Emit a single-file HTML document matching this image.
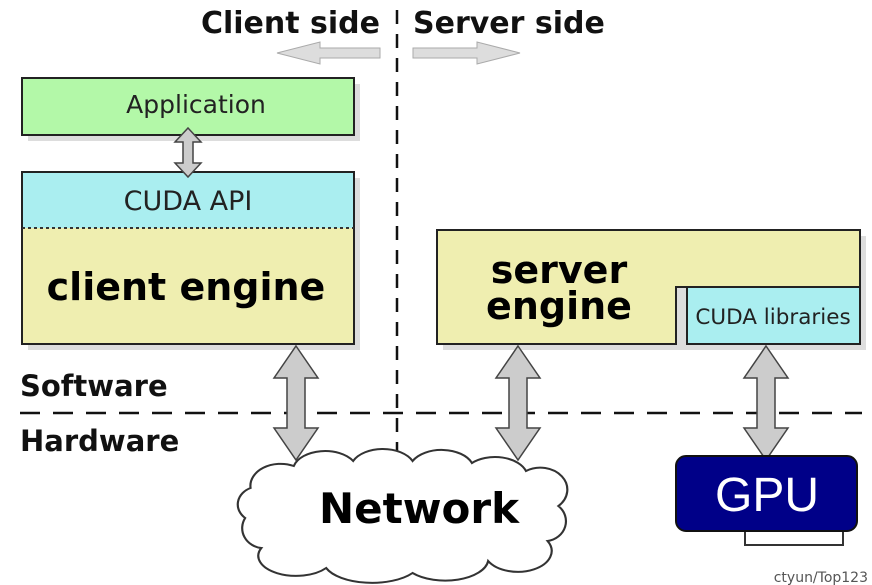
<!DOCTYPE html>
<html><head><meta charset="utf-8"><style>
html,body{margin:0;padding:0;background:#fff;}
svg{display:block;font-family:"DejaVu Sans","Liberation Sans",sans-serif;}
</style></head><body>
<svg width="872" height="585" viewBox="0 0 872 585" xmlns="http://www.w3.org/2000/svg">
<!-- titles -->
<text x="380" y="33" font-size="30" font-weight="bold" text-anchor="end" fill="#111">Client side</text>
<text x="413" y="33" font-size="30" font-weight="bold" fill="#111">Server side</text>
<polygon points="277,53 320,42 320,48 380,48 380,58 320,58 320,64" fill="#ddd" stroke="#aaa"/>
<polygon points="520,53 477,42 477,48 413,48 413,58 477,58 477,64" fill="#ddd" stroke="#aaa"/>
<!-- vertical divider -->
<line x1="397" y1="10" x2="397" y2="462" stroke="#111" stroke-width="2.5" stroke-dasharray="14,10"/>
<!-- shadows -->
<rect x="28" y="84" width="332" height="57" fill="#ddd"/>
<rect x="28" y="178" width="332" height="172" fill="#ddd"/>
<rect x="443" y="236" width="423" height="114" fill="#ddd"/>
<!-- application -->
<rect x="22" y="78" width="332" height="57" fill="#b3f8a8" stroke="#222" stroke-width="2"/>
<text x="196" y="113" font-size="25" text-anchor="middle" fill="#222">Application</text>
<!-- cuda api + client engine -->
<rect x="22" y="172" width="332" height="56" fill="#aaeef0"/>
<rect x="22" y="228" width="332" height="116" fill="#efeeb0"/>
<rect x="22" y="172" width="332" height="172" fill="none" stroke="#222" stroke-width="2"/>
<line x1="22" y1="228" x2="354" y2="228" stroke="#333" stroke-width="2" stroke-dasharray="3,3"/>
<text x="188" y="210" font-size="27" text-anchor="middle" fill="#222">CUDA API</text>
<text x="186" y="300" font-size="38" font-weight="bold" text-anchor="middle" fill="#000">client engine</text>
<polygon points="188,128 201,142 193,142 193,163 201,163 188,177 175,163 183,163 183,142 175,142" fill="#ccc" stroke="#444" stroke-width="1.5"/>
<!-- server engine -->
<polygon points="437,230 860,230 860,287 676,287 676,344 437,344" fill="#efeeb0" stroke="#222" stroke-width="2"/>
<rect x="687" y="287" width="173" height="57" fill="#aaeef0" stroke="#222" stroke-width="2"/>
<text x="559" y="283" font-size="38" font-weight="bold" text-anchor="middle" fill="#000">server</text>
<text x="559" y="319" font-size="38" font-weight="bold" text-anchor="middle" fill="#000">engine</text>
<text x="773" y="324" font-size="21.5" text-anchor="middle" fill="#222">CUDA libraries</text>
<!-- horizontal divider -->
<line x1="20" y1="413" x2="862" y2="413" stroke="#111" stroke-width="2.5" stroke-dasharray="20,13"/>
<text x="20" y="396" font-size="29" font-weight="bold" fill="#111">Software</text>
<text x="20" y="451" font-size="29" font-weight="bold" fill="#111">Hardware</text>
<!-- cloud -->
<g transform="translate(405,0) scale(1.08,1) translate(-405,0)">
<path d="M262,488 a28,22 0 0 1 40,-22 a30,20 0 0 1 55,-5 a30,20 0 0 1 55,0 a30,20 0 0 1 55,2 a30,20 0 0 1 50,8 a25,22 0 0 1 30,35 a20,20 0 0 1 -10,35 a30,20 0 0 1 -55,20 a40,22 0 0 1 -70,12 a45,22 0 0 1 -80,-5 a35,20 0 0 1 -60,-20 a20,20 0 0 1 -15,-30 a20,18 0 0 1 5,-30 z" fill="#fff" stroke="#333" stroke-width="2"/>
</g>
<text x="419" y="523" font-size="42" font-weight="bold" text-anchor="middle" fill="#000">Network</text>
<!-- arrows -->
<polygon points="296,346 318,378 305,378 305,428 318,428 296,460 274,428 287,428 287,378 274,378" fill="#ccc" stroke="#444" stroke-width="1.5"/>
<polygon points="518,346 540,378 527,378 527,428 540,428 518,460 496,428 509,428 509,378 496,378" fill="#ccc" stroke="#444" stroke-width="1.5"/>
<polygon points="766,346 788,378 775,378 775,428 788,428 766,460 744,428 757,428 757,378 744,378" fill="#ccc" stroke="#444" stroke-width="1.5"/>
<!-- GPU -->
<rect x="745" y="528" width="98" height="17" fill="#fff" stroke="#333" stroke-width="2"/>
<rect x="676" y="456" width="181" height="75" rx="10" fill="#000088" stroke="#111" stroke-width="2"/>
<text x="767" y="511" font-size="48" text-anchor="middle" fill="#fff" font-family="Liberation Sans, sans-serif">GPU</text>
<text x="868" y="582" font-size="14" text-anchor="end" fill="#555">ctyun/Top123</text>
</svg>
</body></html>
